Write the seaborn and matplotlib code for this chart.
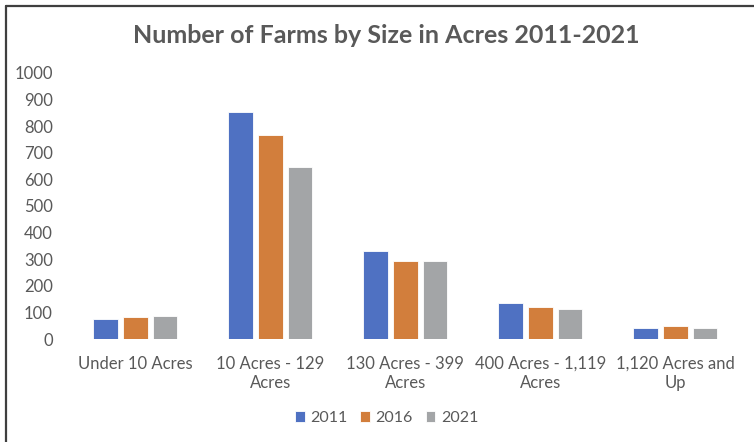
import matplotlib
matplotlib.use("Agg")
import matplotlib.pyplot as plt
import seaborn as sns
import pandas as pd
from matplotlib.lines import Line2D

# Farm counts by size class
categories = ["Under 10 Acres", "10 Acres - 129\nAcres", "130 Acres - 399\nAcres",
              "400 Acres - 1,119\nAcres", "1,120 Acres and\nUp"]
years = ["2011", "2016", "2021"]
farms_2011 = [75, 852, 332, 135, 41]
farms_2016 = [83, 765, 292, 120, 49]
farms_2021 = [88, 647, 292, 114, 41]
y_ticks = [0, 100, 200, 300, 400, 500, 600, 700, 800, 900, 1000]

colors = ["#4F71C2", "#D27E3C", "#A3A5A7"]
text_color = "#595959"

df = pd.DataFrame({
    "Size": categories * 3,
    "Year": [y for y in years for _ in categories],
    "Farms": farms_2011 + farms_2016 + farms_2021,
})

sns.set_theme(style="white")
plt.rcParams["font.family"] = ["Lato", "DejaVu Sans"]

fig = plt.figure(figsize=(7.54, 4.42), dpi=100)
ax = fig.add_axes([0.0902, 0.233, 0.8948, 0.602])

sns.barplot(data=df, x="Size", y="Farms", hue="Year", palette=colors,
            order=categories, hue_order=years, width=0.66, gap=0.17,
            saturation=1, edgecolor="white", linewidth=0.6, ax=ax)

ax.set_ylim(0, 1000)
ax.set_yticks(y_ticks)
ax.set_xlabel("")
ax.set_ylabel("")
for s in ax.spines.values():
    s.set_visible(False)
ax.tick_params(axis="both", length=0, colors=text_color, labelsize=12)
ax.tick_params(axis="y", pad=11)
ax.tick_params(axis="x", pad=12)
for lbl in ax.get_xticklabels():
    lbl.set_linespacing(1.25)

fig.text(0.512, 0.92, "Number of Farms by Size in Acres 2011-2021",
         ha="center", va="center", fontsize=18, fontweight="bold", color=text_color)

handles, labels = ax.get_legend_handles_labels()
ax.legend(handles, labels, loc="center", bbox_to_anchor=(0.513, 0.054),
          bbox_transform=fig.transFigure, ncol=3, frameon=False,
          handlelength=0.6, handleheight=0.6, handletextpad=0.35,
          columnspacing=0.8, fontsize=11.5, labelcolor=text_color)

# Chart frame
fig.add_artist(Line2D([5.5 / 754, 5.5 / 754], [0, 1 - 6 / 442], color="#3F3F3F",
                      lw=1.6, transform=fig.transFigure))
fig.add_artist(Line2D([5.5 / 754, 1], [1 - 6 / 442, 1 - 6 / 442], color="#3F3F3F",
                      lw=1.6, transform=fig.transFigure))

fig.savefig("out.png", dpi=100)
